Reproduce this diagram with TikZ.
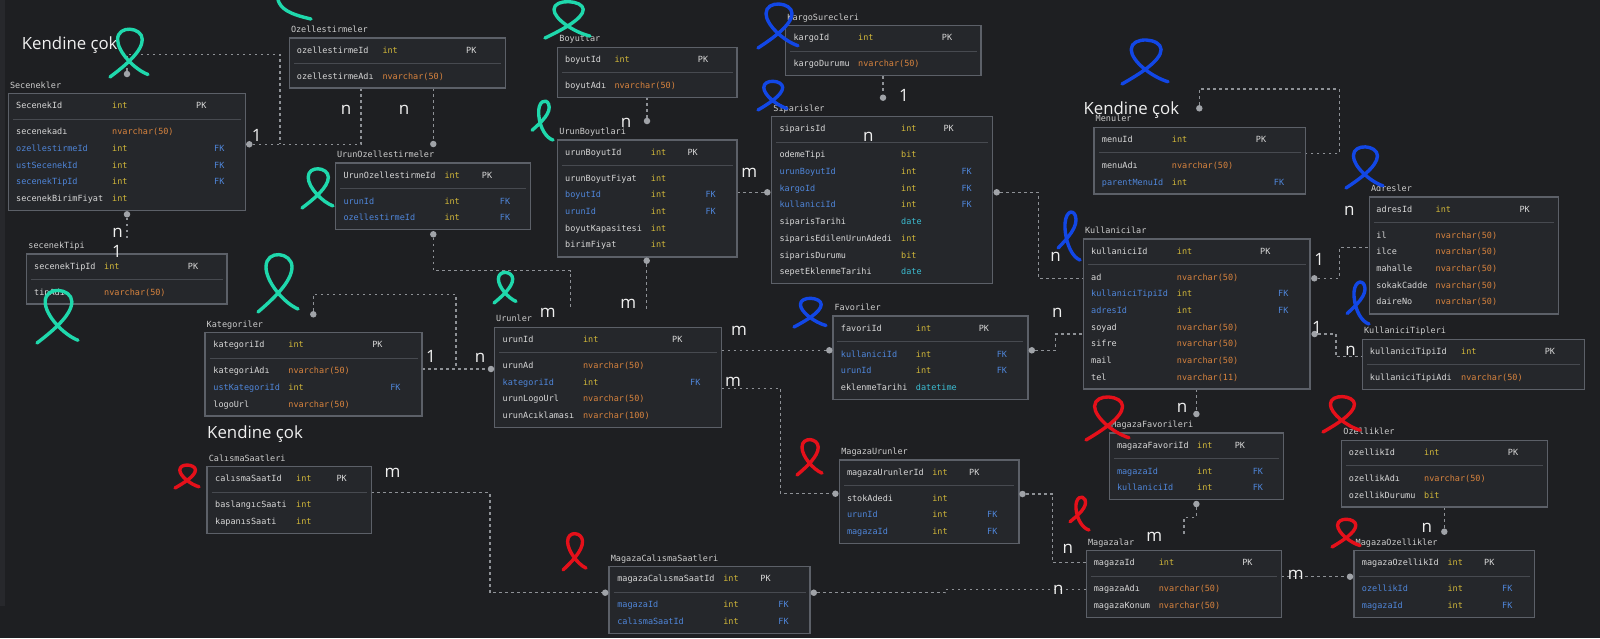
\documentclass[tikz,border=0pt]{standalone}
\usepackage{fontspec}
\newfontfamily\monof{DejaVu Sans Mono}
\newfontfamily\uif{Open Sans}
\definecolor{bgc}{HTML}{1E1F22}
\definecolor{panelc}{HTML}{27282C}
\definecolor{boxfill}{HTML}{25272B}
\definecolor{boxline}{HTML}{5C6068}
\definecolor{sepc}{HTML}{474A50}
\definecolor{namec}{HTML}{D8D8D8}
\definecolor{titlec}{HTML}{CDCDCD}
\definecolor{intc}{HTML}{D2B83A}
\definecolor{strc}{HTML}{D9843E}
\definecolor{fkc}{HTML}{4F86DA}
\definecolor{datec}{HTML}{3CBDD2}
\definecolor{connc}{HTML}{8E9196}
\definecolor{dotc}{HTML}{A0A3A8}
\definecolor{lblc}{HTML}{F0F0F0}
\definecolor{inkcyan}{HTML}{1FD8AC}
\definecolor{inkblue}{HTML}{1247E6}
\definecolor{inkred}{HTML}{E5101A}
\pgfdeclarelayer{bgl}
\pgfdeclarelayer{edges}
\pgfsetlayers{bgl,edges,main}

\newcounter{cellno}
\newcounter{lbln}
% column positions of the current table
\newcommand\tcols[4]{\def\cNx{#1}\def\cTx{#2}\def\cKx{#3}\def\cTop{#4}}
% one text cell: style, x, row index (0 = key row), text
\newcommand\cellat[4]{\stepcounter{cellno}\node[#1] (cell\arabic{cellno}) at (#2,{\cTop+21.3+16.7*#3-9.3*(#3==0)}) {#4};}
% table frame: name, left, top, right, body rows, title
\newcommand\tbl[6]{%
  \node[tbox, anchor=north west, minimum width={#4-#2}, minimum height={50+16.7*(#5-1)}] (#1) at (#2,#3) {};
  \draw[sepl] ([shift={(4.5,25.3)}]#1.north west) -- ([shift={(-4.5,25.3)}]#1.north east);
  \node[ftitle] (#1-title) at (#2+1.5,#3-8.7) {#6};}
\newcommand\hrow[1]{\cellat{fname}{\cNx}{0}{#1}\cellat{ftype}{\cTx}{0}{int}\cellat{fname}{\cKx}{0}{PK}}
\newcommand\brow[4]{\cellat{fname}{\cNx}{#1}{#2}\cellat{#4}{\cTx}{#1}{#3}}
\newcommand\frow[2]{\cellat{ffk}{\cNx}{#1}{#2}\cellat{ftype}{\cTx}{#1}{int}\cellat{ffk}{\cKx+18}{#1}{FK}}
% cardinality labels
\newcommand\card[3]{\stepcounter{lbln}\node[lblst] (card\arabic{lbln}) at (#1,#2) {#3};}
% hand-drawn ink marks
\newcommand\bowmark[5]{\draw[#1, shift={(#2,#3)}, xscale=#4, yscale=#5] (0,1) .. controls (0.35,0.8) and (0.85,0.5) .. (0.85,0.25) .. controls (0.85,0) and (0.2,-0.05) .. (0.2,0.25) .. controls (0.2,0.5) and (0.65,0.85) .. (1,0.95);}
\newcommand\ellmark[5]{\draw[#1, shift={(#2,#3)}, xscale=#4, yscale=#5] (0.05,0.75) .. controls (0.45,0.55) and (0.95,0.3) .. (0.8,0.08) .. controls (0.68,-0.08) and (0.3,0) .. (0.35,0.35) .. controls (0.4,0.7) and (0.7,0.95) .. (1,1);}

\begin{document}
\begin{tikzpicture}[x=1pt, y=-1pt,
  tbox/.style={draw=boxline, fill=boxfill, line width=1.5pt, inner sep=0pt, outer sep=0pt, rectangle},
  sepl/.style={draw=sepc, line width=0.9pt},
  cellbase/.style={inner sep=0pt, anchor=west, text height=6.2pt, text depth=0pt, font=\monof\fontsize{8.5}{10}\selectfont},
  fname/.style={cellbase, text=namec},
  ftitle/.style={cellbase, text=titlec},
  ftype/.style={cellbase, text=intc},
  fstr/.style={cellbase, text=strc},
  fdate/.style={cellbase, text=datec},
  ffk/.style={cellbase, text=fkc},
  dotn/.style={circle, fill=dotc, inner sep=0pt, minimum size=6.5pt},
  conn/.style={draw=connc, line width=1.1pt, dash pattern=on 2.6pt off 3.4pt},
  lblst/.style={text=lblc, inner sep=0pt, text height=9.5pt, text depth=0pt, font=\uif\fontsize{17}{19}\selectfont},
  kend/.style={text=lblc, inner sep=0pt, anchor=base west, font=\uif\fontsize{16.8}{19}\selectfont},
  scribC/.style={draw=inkcyan, line width=3.4pt, line cap=round, line join=round},
  scribB/.style={draw=inkblue, line width=3.4pt, line cap=round, line join=round},
  scribR/.style={draw=inkred, line width=3.4pt, line cap=round, line join=round}]

\useasboundingbox (0,0) rectangle (1600,638);
\begin{pgfonlayer}{bgl}
  \fill[bgc] (0,0) rectangle (1600,638);
  \fill[panelc] (0,0) rectangle (4.5,606);
\end{pgfonlayer}

% ---------------- tables ----------------
\tbl{secenekler}{8.3}{93.7}{245.7}{5}{Secenekler}
\tcols{16}{112}{196}{93.7}
\hrow{SecenekId}
\brow{1}{secenekadı}{nvarchar(50)}{fstr}
\frow{2}{ozellestirmeId}
\frow{3}{ustSecenekId}
\frow{4}{secenekTipId}
\brow{5}{secenekBirimFiyat}{int}{ftype}

\tbl{ozel}{289.3}{38}{505.7}{1}{Ozellestirmeler}
\tcols{296.7}{382.3}{466}{38}
\hrow{ozellestirmeId}
\brow{1}{ozellestirmeAdı}{nvarchar(50)}{fstr}

\tbl{urunozel}{335.3}{163}{530.7}{2}{UrunOzellestirmeler}
\tcols{343.3}{444.3}{481.7}{163}
\hrow{UrunOzellestirmeId}
\frow{1}{urunId}
\frow{2}{ozellestirmeId}

\tbl{sectipi}{26.7}{254}{227}{1}{secenekTipi}
\tcols{34}{104}{187.7}{254}
\hrow{secenekTipId}
\brow{1}{tipAdı}{nvarchar(50)}{fstr}

\tbl{boyutlar}{557.7}{47.3}{737}{1}{Boyutlar}
\tcols{565}{614.3}{697.7}{47.3}
\hrow{boyutId}
\brow{1}{boyutAdı}{nvarchar(50)}{fstr}

\tbl{urunboyut}{557.7}{140}{737}{5}{UrunBoyutlari}
\tcols{565}{650.7}{687.3}{140}
\hrow{urunBoyutId}
\brow{1}{urunBoyutFiyat}{int}{ftype}
\frow{2}{boyutId}
\frow{3}{urunId}
\brow{4}{boyutKapasitesi}{int}{ftype}
\brow{5}{birimFiyat}{int}{ftype}

\tbl{kargo}{785.7}{25.7}{981}{1}{KargoSurecleri}
\tcols{793.3}{858}{941.7}{25.7}
\hrow{kargoId}
\brow{1}{kargoDurumu}{nvarchar(50)}{fstr}

\tbl{siparis}{771.7}{116.7}{992.7}{8}{Siparisler}
\tcols{779.3}{901}{943.3}{116.7}
\hrow{siparisId}
\brow{1}{odemeTipi}{bit}{ftype}
\frow{2}{urunBoyutId}
\frow{3}{kargoId}
\frow{4}{kullaniciId}
\brow{5}{siparisTarihi}{date}{fdate}
\brow{6}{siparisEdilenUrunAdedi}{int}{ftype}
\brow{7}{siparisDurumu}{bit}{ftype}
\brow{8}{sepetEklenmeTarihi}{date}{fdate}

\tbl{menuler}{1094}{127.3}{1305.3}{2}{Menuler}
\tcols{1101.7}{1171.7}{1255.7}{127.3}
\hrow{menuId}
\brow{1}{menuAdı}{nvarchar(50)}{fstr}
\frow{2}{parentMenuId}

\tbl{kullanici}{1083.3}{239}{1310}{7}{Kullanicilar}
\tcols{1091}{1176.7}{1260}{239}
\hrow{kullaniciId}
\brow{1}{ad}{nvarchar(50)}{fstr}
\frow{2}{kullaniciTipiId}
\frow{3}{adresId}
\brow{4}{soyad}{nvarchar(50)}{fstr}
\brow{5}{sifre}{nvarchar(50)}{fstr}
\brow{6}{mail}{nvarchar(50)}{fstr}
\brow{7}{tel}{nvarchar(11)}{fstr}

\tbl{adresler}{1369.3}{197}{1558.7}{5}{Adresler}
\tcols{1376.2}{1435.5}{1519.3}{197}
\hrow{adresId}
\brow{1}{il}{nvarchar(50)}{fstr}
\brow{2}{ilce}{nvarchar(50)}{fstr}
\brow{3}{mahalle}{nvarchar(50)}{fstr}
\brow{4}{sokakCadde}{nvarchar(50)}{fstr}
\brow{5}{daireNo}{nvarchar(50)}{fstr}

\tbl{kultipi}{1362.4}{339.3}{1584.4}{1}{KullaniciTipleri}
\tcols{1369.7}{1461}{1544.6}{339.3}
\hrow{kullaniciTipiId}
\brow{1}{kullaniciTipiAdi}{nvarchar(50)}{fstr}

\tbl{favoriler}{832.9}{316}{1027.9}{3}{Favoriler}
\tcols{840.7}{915.7}{978.6}{316}
\hrow{favoriId}
\frow{1}{kullaniciId}
\frow{2}{urunId}
\brow{3}{eklenmeTarihi}{datetime}{fdate}

\tbl{kategoriler}{205}{332.7}{422.1}{3}{Kategoriler}
\tcols{213.2}{288.2}{372.1}{332.7}
\hrow{kategoriId}
\brow{1}{kategoriAdı}{nvarchar(50)}{fstr}
\frow{2}{ustKategoriId}
\brow{3}{logoUrl}{nvarchar(50)}{fstr}

\tbl{urunler}{494.5}{327.3}{721.5}{4}{Urunler}
\tcols{502.5}{582.9}{672}{327.3}
\hrow{urunId}
\brow{1}{urunAd}{nvarchar(50)}{fstr}
\frow{2}{kategoriId}
\brow{3}{urunLogoUrl}{nvarchar(50)}{fstr}
\brow{4}{urunAcıklaması}{nvarchar(100)}{fstr}

\tbl{calisma}{207.1}{466.7}{371.4}{2}{CalısmaSaatleri}
\tcols{215}{296}{336.4}{466.7}
\hrow{calısmaSaatId}
\brow{1}{baslangıcSaati}{int}{ftype}
\brow{2}{kapanısSaati}{int}{ftype}

\tbl{mcs}{609.1}{566.7}{810}{2}{MagazaCalısmaSaatleri}
\tcols{617.1}{723.1}{760.2}{566.7}
\hrow{magazaCalısmaSaatId}
\frow{1}{magazaId}
\frow{2}{calısmaSaatId}

\tbl{magurun}{839.6}{460}{1018.9}{3}{MagazaUrunler}
\tcols{846.8}{932.1}{969}{460}
\hrow{magazaUrunlerId}
\brow{1}{stokAdedi}{int}{ftype}
\frow{2}{urunId}
\frow{3}{magazaId}

\tbl{magfav}{1109.6}{433}{1283.6}{2}{MagazaFavorileri}
\tcols{1116.8}{1197}{1234.6}{433}
\hrow{magazaFavoriId}
\frow{1}{magazaId}
\frow{2}{kullaniciId}

\tbl{magazalar}{1086.4}{550.7}{1281.4}{2}{Magazalar}
\tcols{1093.6}{1158.6}{1242.1}{550.7}
\hrow{magazaId}
\brow{1}{magazaAdı}{nvarchar(50)}{fstr}
\brow{2}{magazaKonum}{nvarchar(50)}{fstr}

\tbl{ozellikler}{1341.7}{440.3}{1547.3}{2}{Ozellikler}
\tcols{1348.7}{1424}{1507.7}{440.3}
\hrow{ozellikId}
\brow{1}{ozellikAdı}{nvarchar(50)}{fstr}
\brow{2}{ozellikDurumu}{bit}{ftype}

\tbl{magozel}{1354}{550.7}{1534.3}{2}{MagazaOzellikler}
\tcols{1361.7}{1447.3}{1484}{550.7}
\hrow{magazaOzellikId}
\frow{1}{ozellikId}
\frow{2}{magazaId}

% ---------------- connector ends ----------------
\node[dotn] (d-sec-top) at (127,74) {};
\node[dotn] (d-sec-right) at (249.3,144.3) {};
\coordinate (p-ozel-b1) at (361,88.3);
\coordinate (p-ozel-b2) at (433.3,88.3);
\node[dotn] (d-uoz-top) at (433.3,144) {};
\node[dotn] (d-sec-bot) at (127,214.3) {};
\coordinate (p-st-top) at (127,240);
\node[dotn] (d-uoz-bot) at (433.3,234.3) {};
\coordinate (p-urun-t1) at (570.7,310);
\node[dotn] (d-ub-bot) at (646.7,260.7) {};
\coordinate (p-urun-t2) at (646.7,310);
\coordinate (p-boy-b) at (647,97.3);
\node[dotn] (d-ub-top) at (647,121) {};
\coordinate (p-kargo-b) at (883,76.3);
\node[dotn] (d-sip-top) at (883,97.7) {};
\coordinate (p-ub-r) at (737,192.3);
\node[dotn] (d-sip-left) at (767.3,192.3) {};
\node[dotn] (d-sip-right) at (996.7,192.3) {};
\coordinate (p-kul-l1) at (1083.3,278.3);
\node[dotn] (d-menu-top) at (1199.3,108.3) {};
\coordinate (p-menu-r) at (1305.3,153.3);
\node[dotn] (d-kul-r1) at (1314.3,278.3) {};
\coordinate (p-adr-l) at (1369.3,247.7);
\node[dotn] (d-kul-r2) at (1314.6,334) {};
\coordinate (p-kt-l) at (1362.4,356.7);
\node[dotn] (d-fav-r) at (1031.8,350.3) {};
\coordinate (p-kul-l2) at (1083.3,334);
\coordinate (p-urun-r1) at (721.5,350.3);
\node[dotn] (d-fav-l) at (829.3,350.3) {};
\coordinate (p-urun-r2) at (721.5,388.3);
\node[dotn] (d-mu-l) at (835.4,493.7) {};
\node[dotn] (d-mu-r) at (1022.5,494) {};
\coordinate (p-mag-l1) at (1086.4,562.7);
\coordinate (p-kul-b) at (1196.4,389);
\node[dotn] (d-mf-top) at (1196.4,414) {};
\node[dotn] (d-mf-bot) at (1196.4,504) {};
\coordinate (p-mag-t) at (1184,534.3);
\coordinate (p-mag-r) at (1281.4,576.7);
\node[dotn] (d-mo-l) at (1350,576.7) {};
\coordinate (p-ozl-b) at (1444.3,507.3);
\node[dotn] (d-mo-top) at (1444.3,531.7) {};
\node[dotn] (d-kat-top) at (313.3,314.3) {};
\coordinate (p-kat-r) at (422.1,369);
\node[dotn] (d-urun-l) at (491,369) {};
\coordinate (p-cal-r) at (371.4,492.7);
\node[dotn] (d-mcs-l) at (605.2,592.7) {};
\node[dotn] (d-mcs-r) at (813.8,592.7) {};
\coordinate (p-mag-l2) at (1086.4,589.3);

% ---------------- connectors ----------------
\begin{pgfonlayer}{edges}
  \draw[conn] (d-sec-top) -- (127,54.3) -- (280,54.3) -- (280,144.3);
  \draw[conn] (d-sec-right) -| (p-ozel-b1);
  \draw[conn] (p-ozel-b2) -- (d-uoz-top);
  \draw[conn] (d-sec-bot) -- (p-st-top);
  \draw[conn] (d-uoz-bot) |- (570.7,270.7) -- (p-urun-t1);
  \draw[conn] (d-ub-bot) -- (p-urun-t2);
  \draw[conn] (p-boy-b) -- (d-ub-top);
  \draw[conn] (p-kargo-b) -- (d-sip-top);
  \draw[conn] (p-ub-r) -- (d-sip-left);
  \draw[conn] (d-sip-right) -- (1038.3,192.3) |- (p-kul-l1);
  \draw[conn] (d-menu-top) -- (1199.3,89) -- (1339.3,89) |- (p-menu-r);
  \draw[conn] (d-kul-r1) -- (1339.5,278.3) |- (p-adr-l);
  \draw[conn] (d-kul-r2) -- (1336,334) |- (p-kt-l);
  \draw[conn] (d-fav-r) -- (1055.7,350.3) |- (p-kul-l2);
  \draw[conn] (p-urun-r1) -- (d-fav-l);
  \draw[conn] (p-urun-r2) -| (780.4,493.7) -- (d-mu-l);
  \draw[conn] (d-mu-r) -- (1052.9,494) |- (p-mag-l1);
  \draw[conn] (p-kul-b) -- (d-mf-top);
  \draw[conn] (d-mf-bot) -- (1196.4,517.3) -| (p-mag-t);
  \draw[conn] (p-mag-r) -- (d-mo-l);
  \draw[conn] (p-ozl-b) -- (d-mo-top);
  \draw[conn] (d-kat-top) -- (313.3,294.3) -| (456,369);
  \draw[conn] (p-kat-r) -- (d-urun-l);
  \draw[conn] (p-cal-r) -- (490,492.7) |- (d-mcs-l);
  \draw[conn] (d-mcs-r) -- (945.8,592.7) -- (945.8,589.3) -- (p-mag-l2);
\end{pgfonlayer}

% ---------------- cardinalities ----------------
\card{256.7}{136.7}{1}
\card{346}{110}{n}
\card{404}{110}{n}
\card{117.7}{232.3}{n}
\card{117}{252.3}{1}
\card{547.7}{312.3}{m}
\card{628.3}{303.3}{m}
\card{626}{122.7}{n}
\card{904}{96.7}{1}
\card{868.3}{136.7}{n}
\card{749.3}{172.3}{m}
\card{1055.7}{256.7}{n}
\card{1319.3}{261}{1}
\card{1349.4}{210.7}{n}
\card{1317}{328.3}{1}
\card{1350.5}{350.7}{n}
\card{1057.3}{312.3}{n}
\card{739}{331}{m}
\card{733}{381.7}{m}
\card{1067.9}{548.3}{n}
\card{1182}{407.3}{n}
\card{1154.3}{536.7}{m}
\card{1295.7}{575}{m}
\card{1426.7}{527.7}{n}
\card{431}{357.3}{1}
\card{480}{357.3}{n}
\card{392.5}{472.3}{m}
\card{1058.4}{589.3}{n}

\node[kend] (self-sec) at (21.7,49) {Kendine çok};
\node[kend] (self-menu) at (1083.3,114) {Kendine çok};
\node[kend] (self-kat) at (207,438.5) {Kendine çok};

% ---------------- ink marks ----------------
\draw[scribC] (278,0) .. controls (281,9) and (289,14) .. (311,19);
\bowmark{scribC}{110}{27}{38}{50}
\bowmark{scribC}{545}{0}{45}{38}
\ellmark{scribC}{531}{101}{22}{39}
\bowmark{scribC}{302}{167}{31}{41}
\bowmark{scribC}{494}{271}{22}{32}
\bowmark{scribC}{258}{252}{40}{60}
\bowmark{scribC}{37}{288}{41}{55}
\bowmark{scribB}{758}{2}{40}{46}
\bowmark{scribB}{758}{80}{29}{30}
\bowmark{scribB}{1122}{38}{46}{46}
\bowmark{scribB}{1346}{145}{37}{43}
\ellmark{scribB}{1057}{212}{23}{48}
\bowmark{scribB}{794}{297}{32}{30}
\ellmark{scribB}{1346}{282}{23}{42}
\bowmark{scribR}{175}{464}{24}{24}
\bowmark{scribR}{797}{438}{25}{37}
\bowmark{scribR}{563}{532}{23}{38}
\bowmark{scribR}{1086}{395}{43}{45}
\ellmark{scribR}{1069}{497}{20}{33}
\bowmark{scribR}{1323}{395}{37}{37}
\bowmark{scribR}{1332}{518}{28}{29}
\end{tikzpicture}
\end{document}
